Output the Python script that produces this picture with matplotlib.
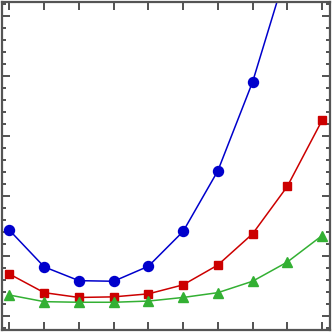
import matplotlib
matplotlib.use("Agg")
import matplotlib.pyplot as plt
from matplotlib.ticker import MultipleLocator, NullFormatter

x = [1, 2, 3, 4, 5, 6, 7, 8, 9, 10]
blue = [1.43, 0.82, 0.59, 0.58, 0.83, 1.41, 2.42, 3.90, 5.80, 8.10]
red = [0.70, 0.39, 0.31, 0.32, 0.37, 0.52, 0.85, 1.37, 2.16, 3.26]
green = [0.35, 0.24, 0.23, 0.23, 0.25, 0.31, 0.39, 0.58, 0.90, 1.34]

fig = plt.figure(figsize=(3.32, 3.32), dpi=100)
ax = fig.add_axes([0.005, 0.005, 0.99, 0.99])

ax.plot(x, blue, color="#0000cc", marker="o", markersize=7.2, linewidth=1.1)
ax.plot(x, red, color="#cc0000", marker="s", markersize=5.8, linewidth=1.1)
ax.plot(x, green, color="#33b033", marker="^", markersize=6.8, linewidth=1.1)

ax.set_xlim(0.775, 10.24)
ax.set_ylim(-0.238, 5.24)

ax.xaxis.set_major_locator(MultipleLocator(1))
ax.yaxis.set_major_locator(MultipleLocator(1))
ax.yaxis.set_minor_locator(MultipleLocator(0.2))
ax.xaxis.set_major_formatter(NullFormatter())
ax.yaxis.set_major_formatter(NullFormatter())

ax.tick_params(which="both", direction="in", top=True, right=True,
               color="#333333", width=1.2)
ax.tick_params(which="major", length=6)
ax.tick_params(which="minor", length=3)

for s in ax.spines.values():
    s.set_color("#555555")
    s.set_linewidth(1.6)

fig.savefig("out.png", dpi=100)
